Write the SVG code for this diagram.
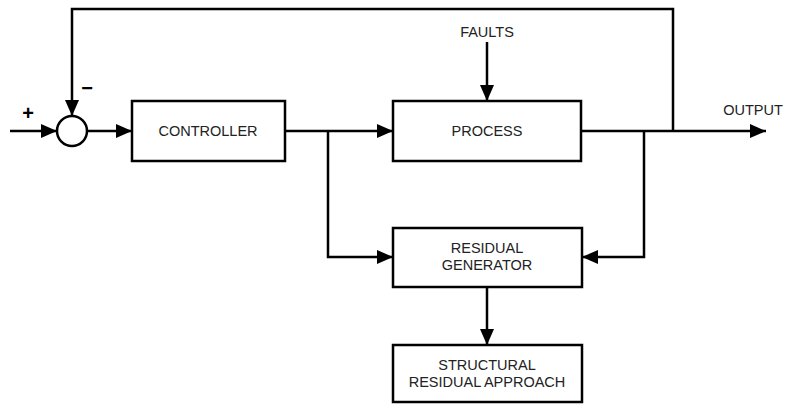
<svg xmlns="http://www.w3.org/2000/svg" width="785" height="405" viewBox="0 0 785 405">
<style>
.box{fill:#fff;stroke:#000;stroke-width:2.5}
.ln{fill:none;stroke:#000;stroke-width:2.5}
.t{font-family:"Liberation Sans",Arial,sans-serif;font-size:14.5px;fill:#222;text-anchor:middle}
.s{font-family:"Liberation Sans",Arial,sans-serif;font-size:20px;font-weight:bold;fill:#000;text-anchor:middle}
</style>
<defs>
<marker id="ah" viewBox="0 0 16 14" refX="16" refY="7" markerWidth="16" markerHeight="14" markerUnits="userSpaceOnUse" orient="auto">
<path d="M0,0 L16,7 L0,14 Z" fill="#000"/>
</marker>
</defs>
<g id="connectors">
<path class="ln" d="M10,131 H57" marker-end="url(#ah)"/>
<path class="ln" d="M673,131 V9 H72 V116" marker-end="url(#ah)"/>
<path class="ln" d="M87,131 H132" marker-end="url(#ah)"/>
<path class="ln" d="M285,131 H393" marker-end="url(#ah)"/>
<path class="ln" d="M487,42 V101" marker-end="url(#ah)"/>
<path class="ln" d="M581,131 H766" marker-end="url(#ah)"/>
<path class="ln" d="M328,131 V257 H393" marker-end="url(#ah)"/>
<path class="ln" d="M644,131 V257 H582" marker-end="url(#ah)"/>
<path class="ln" d="M487,287 V345" marker-end="url(#ah)"/>
</g>
<g id="sum">
<circle cx="72" cy="131" r="15" class="box"/>
<text x="28" y="120" class="s">+</text>
<text x="87" y="95" class="s">−</text>
</g>
<g id="controller">
<rect x="132" y="101" width="153" height="60" class="box"/>
<text x="208" y="136" class="t">CONTROLLER</text>
</g>
<g id="process">
<rect x="393" y="101" width="188" height="60" class="box"/>
<text x="487" y="136" class="t">PROCESS</text>
</g>
<g id="faults">
<text x="487" y="37" class="t">FAULTS</text>
</g>
<g id="output">
<text x="753" y="115" class="t">OUTPUT</text>
</g>
<g id="residual-generator">
<rect x="393" y="228" width="189" height="59" class="box"/>
<text x="487" y="253" class="t">RESIDUAL</text>
<text x="487" y="270" class="t">GENERATOR</text>
</g>
<g id="structural">
<rect x="393" y="345" width="189" height="57" class="box"/>
<text x="487" y="370" class="t">STRUCTURAL</text>
<text x="487" y="387" class="t">RESIDUAL APPROACH</text>
</g>
</svg>
